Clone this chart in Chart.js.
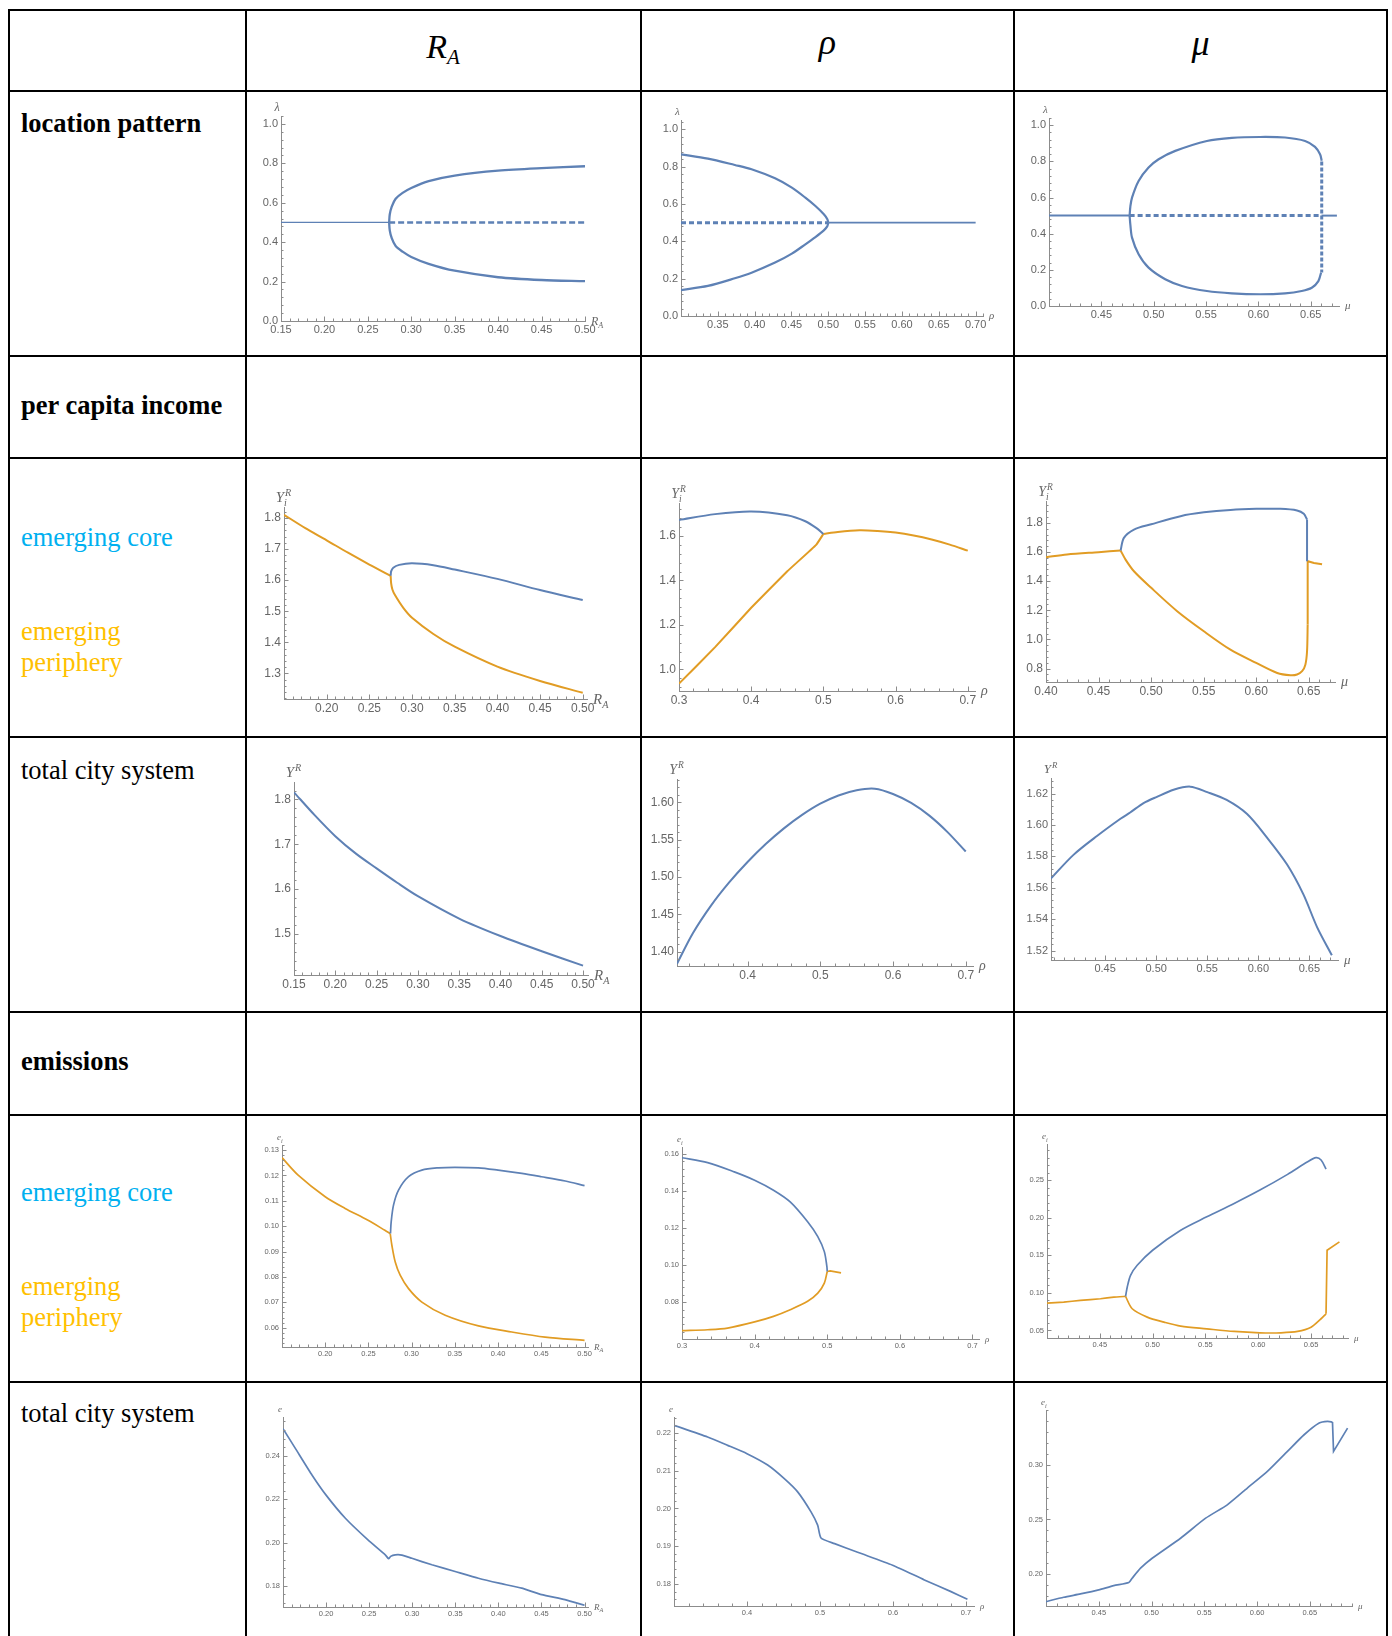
<!DOCTYPE html>
<html>
<head>
<meta charset="utf-8">
<title>Bifurcation panels</title>
<script src="https://cdn.jsdelivr.net/npm/chart.js@4.4.1/dist/chart.umd.min.js"></script>
<style>
  html, body { margin: 0; padding: 0; background: #fff; }
  #page { position: relative; width: 1392px; height: 1636px; overflow: hidden;
          font-family: "Liberation Serif", "Times New Roman", serif; color: #000; }
  .hl { position: absolute; left: 8px; width: 1380px; height: 2px; background: #000; }
  .vl { position: absolute; top: 9px; width: 2px; height: 1640px; background: #000; }
  .lab { position: absolute; left: 21px; font-size: 26.5px; line-height: 30.5px; white-space: nowrap; }
  .bold { font-weight: bold; }
  .core { color: #00b0f0; }
  .peri { color: #ffc000; }
  .head { position: absolute; font-size: 34px; line-height: 40px; font-style: italic; text-align: center; }
  .head sub { font-size: 21px; vertical-align: -6px; }
  canvas { position: absolute; }
</style>
</head>
<body>
<div id="page">
  <div class="head" style="left:245px;width:396px;top:27px;">R<sub>A</sub></div>
  <div class="head" style="left:641px;width:373px;top:22px;font-size:36px;">ρ</div>
  <div class="head" style="left:1014px;width:373px;top:23px;font-size:36px;">μ</div>

  <div class="lab bold" style="top:108px;">location pattern</div>
  <div class="lab bold" style="top:390px;">per capita income</div>
  <div class="lab core" style="top:522px;">emerging core</div>
  <div class="lab peri" style="top:616px;">emerging<br>periphery</div>
  <div class="lab" style="top:755px;">total city system</div>
  <div class="lab bold" style="top:1046px;">emissions</div>
  <div class="lab core" style="top:1177px;">emerging core</div>
  <div class="lab peri" style="top:1271px;">emerging<br>periphery</div>
  <div class="lab" style="top:1398px;">total city system</div>

  <div class="hl" style="top:9px"></div>
  <div class="hl" style="top:90px"></div>
  <div class="hl" style="top:355px"></div>
  <div class="hl" style="top:457px"></div>
  <div class="hl" style="top:736px"></div>
  <div class="hl" style="top:1011px"></div>
  <div class="hl" style="top:1114px"></div>
  <div class="hl" style="top:1381px"></div>
  <div class="vl" style="left:8px"></div>
  <div class="vl" style="left:245px"></div>
  <div class="vl" style="left:640px"></div>
  <div class="vl" style="left:1013px"></div>
  <div class="vl" style="left:1386px"></div>
</div>
<script>
// ---- tick labels ----
const ticksRA = [0.15, 0.20, 0.25, 0.30, 0.35, 0.40, 0.45, 0.50];
const ticksRA2 = [0.20, 0.25, 0.30, 0.35, 0.40, 0.45, 0.50];
const ticksRho = [0.35, 0.40, 0.45, 0.50, 0.55, 0.60, 0.65, 0.70];
const ticksRho2 = [0.3, 0.4, 0.5, 0.6, 0.7];
const ticksRho3 = [0.4, 0.5, 0.6, 0.7];
const ticksMu = [0.45, 0.50, 0.55, 0.60, 0.65];
const ticksMu2 = [0.40, 0.45, 0.50, 0.55, 0.60, 0.65];
const ticksLam = [0.0, 0.2, 0.4, 0.6, 0.8, 1.0];
const ticksYiRA = [1.3, 1.4, 1.5, 1.6, 1.7, 1.8];
const ticksYiRho = [1.0, 1.2, 1.4, 1.6];
const ticksYiMu = [0.8, 1.0, 1.2, 1.4, 1.6, 1.8];
const ticksYRA = [1.5, 1.6, 1.7, 1.8];
const ticksYRho = [1.40, 1.45, 1.50, 1.55, 1.60];
const ticksYMu = [1.52, 1.54, 1.56, 1.58, 1.60, 1.62];
const ticksEiRA = [0.06, 0.07, 0.08, 0.09, 0.10, 0.11, 0.12, 0.13];
const ticksEiRho = [0.08, 0.10, 0.12, 0.14, 0.16];
const ticksEiMu = [0.05, 0.10, 0.15, 0.20, 0.25];
const ticksERA = [0.18, 0.20, 0.22, 0.24];
const ticksERho = [0.18, 0.19, 0.20, 0.21, 0.22];
const ticksEMu = [0.20, 0.25, 0.30];

// ---- location pattern (lambda) ----
const lamRA_stable = [[0.15, 0.5], [0.2745, 0.5]];
const lamRA_unstable = [[0.2745, 0.5], [0.50, 0.5]];
const lamRA_upper = [[0.2745, 0.5], [0.2752, 0.54], [0.2775, 0.58], [0.282, 0.62], [0.29, 0.65], [0.30, 0.675],
  [0.32, 0.71], [0.35, 0.738], [0.40, 0.763], [0.45, 0.776], [0.50, 0.785]];
const lamRA_lower = [[0.2745, 0.5], [0.2752, 0.46], [0.2775, 0.42], [0.282, 0.38], [0.29, 0.352], [0.30, 0.325],
  [0.32, 0.29], [0.35, 0.255], [0.40, 0.222], [0.45, 0.208], [0.50, 0.202]];

const lamRho_unstable = [[0.30, 0.5], [0.50, 0.5]];
const lamRho_stable = [[0.50, 0.5], [0.70, 0.5]];
const lamRho_upper = [[0.30, 0.866], [0.3365, 0.843], [0.373, 0.809], [0.3958, 0.786], [0.4277, 0.7375],
  [0.4505, 0.6875], [0.4688, 0.634], [0.4825, 0.589], [0.4939, 0.545], [0.4985, 0.52], [0.50, 0.5]];
const lamRho_lower = [[0.30, 0.139], [0.3365, 0.161], [0.373, 0.202], [0.3958, 0.232], [0.4277, 0.286],
  [0.4505, 0.334], [0.4688, 0.384], [0.4825, 0.423], [0.4939, 0.459], [0.4985, 0.48], [0.50, 0.5]];

const lamMu_stableL = [[0.40, 0.5], [0.477, 0.5]];
const lamMu_unstable = [[0.477, 0.5], [0.6605, 0.5]];
const lamMu_stableR = [[0.6605, 0.5], [0.675, 0.5]];
const lamMu_upper = [[0.477, 0.5], [0.4777, 0.55], [0.4793, 0.60], [0.4856, 0.692], [0.4951, 0.766], [0.5047, 0.812],
  [0.5206, 0.858], [0.5508, 0.913], [0.5746, 0.93], [0.6017, 0.935], [0.6255, 0.932], [0.6446, 0.913],
  [0.6541, 0.88], [0.6589, 0.839], [0.6605, 0.803]];
const lamMu_lower = [[0.477, 0.5], [0.4777, 0.45], [0.4793, 0.378], [0.4856, 0.286], [0.4951, 0.212], [0.511, 0.148],
  [0.527, 0.111], [0.5508, 0.083], [0.5746, 0.07], [0.6017, 0.065], [0.6255, 0.07], [0.6414, 0.083],
  [0.651, 0.101], [0.6573, 0.138], [0.6599, 0.185]];
const lamMu_jump = [[0.6605, 0.80], [0.6605, 0.185]];

// ---- per capita income, core / periphery ----
const yiRA_periLeft = [[0.15, 1.81], [0.175, 1.767], [0.20, 1.728], [0.225, 1.688], [0.25, 1.65], [0.275, 1.614]];
const yiRA_periLow = [[0.275, 1.614], [0.2755, 1.59], [0.277, 1.57], [0.28, 1.552], [0.29, 1.51], [0.30, 1.479],
  [0.325, 1.427], [0.35, 1.386], [0.40, 1.322], [0.45, 1.276], [0.50, 1.238]];
const yiRA_core = [[0.275, 1.614], [0.2755, 1.628], [0.278, 1.640], [0.285, 1.649], [0.30, 1.654], [0.325, 1.648],
  [0.35, 1.634], [0.40, 1.604], [0.45, 1.568], [0.50, 1.536]];

const yiRho_core = [[0.30, 1.672], [0.35, 1.698], [0.40, 1.71], [0.45, 1.693], [0.475, 1.666], [0.49, 1.636], [0.50, 1.609]];
const yiRho_peri = [[0.30, 0.936], [0.35, 1.10], [0.40, 1.277], [0.45, 1.441], [0.49, 1.56], [0.50, 1.609]];
const yiRho_sym = [[0.50, 1.609], [0.52, 1.618], [0.55, 1.625], [0.575, 1.622], [0.60, 1.615], [0.625, 1.602],
  [0.65, 1.584], [0.675, 1.561], [0.70, 1.534]];

const yiMu_symL = [[0.40, 1.564], [0.42, 1.583], [0.45, 1.599], [0.471, 1.61]];
const yiMu_core = [[0.471, 1.61], [0.4741, 1.697], [0.4837, 1.754], [0.5001, 1.79], [0.528, 1.846], [0.5502, 1.872],
  [0.5755, 1.889], [0.60, 1.896], [0.623, 1.896], [0.6389, 1.885], [0.6453, 1.862], [0.6484, 1.823]];
const yiMu_coreDrop = [[0.6484, 1.823], [0.6484, 1.537]];
const yiMu_peri = [[0.471, 1.61], [0.4757, 1.548], [0.4837, 1.468], [0.5001, 1.354], [0.5248, 1.194], [0.5502, 1.056],
  [0.5755, 0.930], [0.60, 0.839], [0.62, 0.770], [0.6326, 0.754], [0.6389, 0.759], [0.6437, 0.782],
  [0.6468, 0.827], [0.6484, 0.919], [0.649, 1.102]];
const yiMu_periJump = [[0.649, 1.102], [0.649, 1.537], [0.655, 1.525], [0.6627, 1.516]];

// ---- per capita income, total ----
const yRA = [[0.15, 1.816], [0.175, 1.765], [0.20, 1.718], [0.225, 1.679], [0.25, 1.646], [0.275, 1.614],
  [0.30, 1.584], [0.35, 1.534], [0.40, 1.495], [0.45, 1.461], [0.50, 1.429]];
const yRho = [[0.303, 1.384], [0.325, 1.425], [0.35, 1.462], [0.375, 1.493], [0.40, 1.520], [0.425, 1.544],
  [0.45, 1.565], [0.475, 1.583], [0.50, 1.598], [0.525, 1.609], [0.55, 1.616], [0.575, 1.618], [0.60, 1.611],
  [0.625, 1.599], [0.65, 1.582], [0.675, 1.560], [0.70, 1.534]];
const yMu = [[0.397, 1.566], [0.419, 1.581], [0.442, 1.593], [0.465, 1.604], [0.4745, 1.608], [0.4876, 1.614],
  [0.5007, 1.618], [0.517, 1.6225], [0.5333, 1.6245], [0.55, 1.621], [0.569, 1.616], [0.589, 1.607],
  [0.6085, 1.592], [0.628, 1.575], [0.644, 1.556], [0.6575, 1.535], [0.672, 1.517]];

// ---- emissions, core / periphery ----
const eiRA_periLeft = [[0.15, 0.127], [0.169, 0.120], [0.20, 0.1116], [0.223, 0.107], [0.249, 0.1024],
  [0.269, 0.0984], [0.2752, 0.0971]];
const eiRA_periLow = [[0.2752, 0.0971], [0.2771, 0.0925], [0.281, 0.0859], [0.2867, 0.0807], [0.2964, 0.0754],
  [0.3118, 0.0701], [0.3388, 0.0649], [0.3773, 0.0607], [0.4159, 0.0583], [0.4544, 0.0563], [0.50, 0.055]];
const eiRA_core = [[0.2755, 0.0971], [0.2763, 0.1017], [0.279, 0.1083], [0.2848, 0.1142], [0.2964, 0.1195],
  [0.3118, 0.1221], [0.331, 0.123], [0.35, 0.1232], [0.377, 0.123], [0.40, 0.1221], [0.4275, 0.1208],
  [0.45, 0.1195], [0.4776, 0.1178], [0.50, 0.116]];

const eiRho_core = [[0.30, 0.1578], [0.3353, 0.1552], [0.372, 0.1502], [0.40, 0.1457], [0.426, 0.1403],
  [0.449, 0.134], [0.473, 0.1233], [0.487, 0.1153], [0.496, 0.1072], [0.4995, 0.0992], [0.50, 0.0965]];
const eiRho_peri = [[0.30, 0.0646], [0.3353, 0.0651], [0.3628, 0.066], [0.40, 0.0693], [0.426, 0.0723],
  [0.449, 0.0759], [0.473, 0.0804], [0.487, 0.0848], [0.496, 0.0902], [0.50, 0.0965]];
const eiRho_sym = [[0.50, 0.0965], [0.504, 0.0968], [0.519, 0.0957]];

const eiMu_symL = [[0.40, 0.0864], [0.4158, 0.0878], [0.4316, 0.09], [0.4506, 0.0922], [0.4633, 0.0944], [0.4744, 0.0953]];
const eiMu_core = [[0.4744, 0.0953], [0.476, 0.1078], [0.4791, 0.1233], [0.4854, 0.1367], [0.50, 0.1567],
  [0.5266, 0.1833], [0.5513, 0.2011], [0.5772, 0.2189], [0.6016, 0.2367], [0.6278, 0.2576], [0.6468, 0.2744],
  [0.6547, 0.2798], [0.6595, 0.2767], [0.6642, 0.2647]];
const eiMu_peri = [[0.4744, 0.0953], [0.4807, 0.0789], [0.4949, 0.0678], [0.5108, 0.0611], [0.5266, 0.0558],
  [0.5513, 0.0522], [0.5772, 0.0487], [0.6016, 0.0469], [0.6215, 0.0469], [0.6373, 0.0487], [0.65, 0.0544],
  [0.6595, 0.0656], [0.6642, 0.0722]];
const eiMu_periJump = [[0.6642, 0.0722], [0.6652, 0.1567], [0.6769, 0.1678]];

// ---- emissions, total ----
const eRA = [[0.15, 0.2526], [0.1645, 0.2434], [0.1838, 0.2311], [0.20, 0.2219], [0.2224, 0.2112], [0.2486, 0.2012],
  [0.2687, 0.1943], [0.2726, 0.1925], [0.2749, 0.1936], [0.2803, 0.1943], [0.288, 0.1942], [0.2996, 0.1927],
  [0.3228, 0.1897], [0.3498, 0.1866], [0.3768, 0.1835], [0.4008, 0.1812], [0.427, 0.1789], [0.4502, 0.1759],
  [0.4772, 0.1736], [0.50, 0.171]];
const eRho = [[0.30, 0.222], [0.346, 0.2189], [0.3735, 0.2167], [0.40, 0.2145], [0.4283, 0.2115], [0.4511, 0.2079],
  [0.4694, 0.2044], [0.4877, 0.1991], [0.4968, 0.1956], [0.5014, 0.1922], [0.52, 0.1907], [0.5516, 0.1884],
  [0.5995, 0.185], [0.643, 0.1811], [0.6795, 0.178], [0.702, 0.176]];
const eMu = [[0.40, 0.175], [0.4168, 0.179], [0.4326, 0.182], [0.45, 0.1857], [0.4642, 0.1896], [0.4785, 0.1924],
  [0.4816, 0.1963], [0.4896, 0.2055], [0.5006, 0.2146], [0.5275, 0.2329], [0.5513, 0.2512], [0.5718, 0.2634],
  [0.5908, 0.2787], [0.6098, 0.2939], [0.6288, 0.3122], [0.6446, 0.3274], [0.6589, 0.3381], [0.6668, 0.3396],
  [0.6715, 0.339]];
const eMu_jump = [[0.6715, 0.339], [0.6725, 0.3122], [0.6858, 0.3335]];

// ---- drawing ----
const BLUE = '#5e81b5', ORANGE = '#e19c24';
const AXIS = '#8c8c8c', TXT = '#666';
const TF = '"Liberation Sans Narrow", "Liberation Sans", Arial, sans-serif';
const ML = 48, MR = 40, MT = 26, MB = 24;   // room around each plot box

function line(data, color, o = {}) {
  return {
    data: data.map(([x, y]) => ({ x, y })),
    showLine: true, pointRadius: 0, fill: false,
    borderColor: color, borderWidth: o.w || 2,
    borderDash: o.dash || [], tension: o.t === undefined ? 0.3 : o.t
  };
}

// rect = [left, top, right, bottom] of the plot box on the page
const charts = [
  { rect: [281, 116, 585, 321], xr: [0.15, 0.50], yr: [0, 1.04], xt: ticksRA, yt: ticksLam,
    xn: ['R', 'A'], yn: ['λ'], fs: 11, nfs: 12,
    series: [line(lamRA_stable, BLUE, { w: 1.3, t: 0 }), line(lamRA_unstable, BLUE, { w: 2.5, dash: [6, 3], t: 0 }),
      line(lamRA_upper, BLUE, { w: 2.3 }), line(lamRA_lower, BLUE, { w: 2.3 })] },
  { rect: [681, 120, 983, 316], xr: [0.30, 0.71], yr: [0, 1.05], xt: ticksRho, yt: ticksLam,
    xn: ['ρ'], yn: ['λ'], fs: 11, nfs: 11,
    series: [line(lamRho_unstable, BLUE, { w: 3, dash: [5, 3], t: 0 }), line(lamRho_stable, BLUE, { w: 1.8, t: 0 }),
      line(lamRho_upper, BLUE, { w: 2.2 }), line(lamRho_lower, BLUE, { w: 2.2 })] },
  { rect: [1049, 118, 1339, 306], xr: [0.40, 0.677], yr: [0, 1.04], xt: ticksMu, yt: ticksLam,
    xn: ['μ'], yn: ['λ'], fs: 11, nfs: 11,
    series: [line(lamMu_stableL, BLUE, { w: 2, t: 0 }), line(lamMu_unstable, BLUE, { w: 3, dash: [5, 3], t: 0 }),
      line(lamMu_stableR, BLUE, { w: 2, t: 0 }), line(lamMu_upper, BLUE, { w: 2.2 }),
      line(lamMu_lower, BLUE, { w: 2.2 }), line(lamMu_jump, BLUE, { w: 3, dash: [4, 2], t: 0 })] },

  { rect: [284, 507, 587, 699], xr: [0.15, 0.505], yr: [1.218, 1.835], xt: ticksRA2, yt: ticksYiRA,
    xn: ['R', 'A'], yn: ['Y', 'i', 'R'], fs: 12, nfs: 15,
    series: [line(yiRA_core, BLUE), line(yiRA_periLeft, ORANGE), line(yiRA_periLow, ORANGE)] },
  { rect: [679, 503, 975, 691], xr: [0.30, 0.71], yr: [0.903, 1.748], xt: ticksRho2, yt: ticksYiRho,
    xn: ['ρ'], yn: ['Y', 'i', 'R'], fs: 12, nfs: 14,
    series: [line(yiRho_core, BLUE), line(yiRho_peri, ORANGE, { t: 0.1 }), line(yiRho_sym, ORANGE)] },
  { rect: [1046, 501, 1335, 682], xr: [0.40, 0.675], yr: [0.708, 1.95], xt: ticksMu2, yt: ticksYiMu,
    xn: ['μ'], yn: ['Y', 'i', 'R'], fs: 12, nfs: 14,
    series: [line(yiMu_core, BLUE), line(yiMu_coreDrop, BLUE, { t: 0 }), line(yiMu_symL, ORANGE),
      line(yiMu_peri, ORANGE), line(yiMu_periJump, ORANGE, { t: 0 })] },

  { rect: [294, 782, 588, 975], xr: [0.15, 0.506], yr: [1.408, 1.839], xt: ticksRA, yt: ticksYRA,
    xn: ['R', 'A'], yn: ['Y', '', 'R'], fs: 12, nfs: 15,
    series: [line(yRA, BLUE)] },
  { rect: [677, 779, 973, 966], xr: [0.303, 0.71], yr: [1.381, 1.631], xt: ticksRho3, yt: ticksYRho,
    xn: ['ρ'], yn: ['Y', '', 'R'], fs: 12, nfs: 14,
    series: [line(yRho, BLUE)] },
  { rect: [1051, 778, 1338, 960], xr: [0.397, 0.678], yr: [1.514, 1.63], xt: ticksMu, yt: ticksYMu,
    xn: ['μ'], yn: ['Y', '', 'R'], fs: 11, nfs: 13,
    series: [line(yMu, BLUE)] },

  { rect: [282, 1145, 588, 1347], xr: [0.15, 0.504], yr: [0.0524, 0.132], xt: ticksRA2, yt: ticksEiRA,
    xn: ['R', 'A'], yn: ['e', 'i'], fs: 7.5, nfs: 9,
    series: [line(eiRA_core, BLUE, { w: 1.7 }), line(eiRA_periLeft, ORANGE, { w: 1.7 }), line(eiRA_periLow, ORANGE, { w: 1.7 })] },
  { rect: [682, 1147, 979, 1339], xr: [0.30, 0.709], yr: [0.0601, 0.1636], xt: ticksRho2, yt: ticksEiRho,
    xn: ['ρ'], yn: ['e', 'i'], fs: 7.5, nfs: 9,
    series: [line(eiRho_core, BLUE, { w: 1.7 }), line(eiRho_peri, ORANGE, { w: 1.7 }), line(eiRho_sym, ORANGE, { w: 1.7, t: 0 })] },
  { rect: [1047, 1144, 1348, 1338], xr: [0.40, 0.685], yr: [0.04, 0.298], xt: ticksMu, yt: ticksEiMu,
    xn: ['μ'], yn: ['e', 'i'], fs: 7.5, nfs: 9,
    series: [line(eiMu_core, BLUE, { w: 1.7 }), line(eiMu_symL, ORANGE, { w: 1.7, t: 0.1 }), line(eiMu_peri, ORANGE, { w: 1.7 }),
      line(eiMu_periJump, ORANGE, { w: 1.7, t: 0 })] },

  { rect: [283, 1417, 588, 1607], xr: [0.15, 0.504], yr: [0.1702, 0.258], xt: ticksRA2, yt: ticksERA,
    xn: ['R', 'A'], yn: ['e'], fs: 7.5, nfs: 9,
    series: [line(eRA, BLUE, { w: 1.7, t: 0.15 })] },
  { rect: [674, 1417, 974, 1606], xr: [0.30, 0.711], yr: [0.1742, 0.2242], xt: ticksRho3, yt: ticksERho,
    xn: ['ρ'], yn: ['e'], fs: 7.5, nfs: 9,
    series: [line(eRho, BLUE, { w: 1.7, t: 0.2 })] },
  { rect: [1046, 1410, 1352, 1606], xr: [0.40, 0.69], yr: [0.171, 0.35], xt: ticksMu, yt: ticksEMu,
    xn: ['μ'], yn: ['e', 'i'], fs: 7.5, nfs: 9,
    series: [line(eMu, BLUE, { w: 1.7, t: 0.2 }), line(eMu_jump, BLUE, { w: 1.7, t: 0 })] }
];

function decimals(ticks) {
  return Math.max(1, ...ticks.map(v => (String(v).split('.')[1] || '').length));
}

function drawName(ctx, nm, x, y, fs) {
  const [base, sub, sup] = nm;
  ctx.font = 'italic ' + fs + 'px "Liberation Serif", serif';
  ctx.fillText(base, x, y);
  const w = ctx.measureText(base).width;
  ctx.font = 'italic ' + (fs * 0.68) + 'px "Liberation Serif", serif';
  if (sub) ctx.fillText(sub, x + w, y + fs * 0.28);
  if (sup) ctx.fillText(sup, x + w + 1, y - fs * 0.42);
}

// Mathematica style: inward major/minor ticks plus axis names at the ends
const mmaAxes = {
  id: 'mmaAxes',
  afterDraw(chart, args, o) {
    const { ctx, chartArea: a, scales } = chart;
    ctx.save();
    ctx.strokeStyle = AXIS;
    ctx.lineWidth = 1;
    const marks = (scale, ticks, horiz) => {
      const minor = (ticks[1] - ticks[0]) / 5;
      let v = ticks[0] - Math.floor((ticks[0] - scale.min) / minor + 1e-6) * minor;
      ctx.beginPath();
      for (; v <= scale.max + 1e-9; v += minor) {
        const p = Math.round(scale.getPixelForValue(v)) + 0.5;
        const major = ticks.some(t => Math.abs(t - v) < minor / 10);
        const len = major ? 4.5 : 2.5;
        if (horiz) { ctx.moveTo(p, a.bottom); ctx.lineTo(p, a.bottom - len); }
        else { ctx.moveTo(a.left, p); ctx.lineTo(a.left + len, p); }
      }
      ctx.stroke();
    };
    marks(scales.x, o.xt, true);
    marks(scales.y, o.yt, false);
    ctx.fillStyle = TXT;
    ctx.textAlign = 'left';
    ctx.textBaseline = 'alphabetic';
    drawName(ctx, o.xn, a.right + 6, a.bottom + o.nfs * 0.3, o.nfs);
    drawName(ctx, o.yn, a.left - o.nfs * 0.55, a.top - 5, o.nfs);
    ctx.restore();
  }
};

const page = document.getElementById('page');
charts.forEach(c => {
  const [l, t, r, b] = c.rect;
  const cv = document.createElement('canvas');
  cv.width = r - l + ML + MR;
  cv.height = b - t + MT + MB;
  cv.style.left = (l - ML) + 'px';
  cv.style.top = (t - MT) + 'px';
  page.appendChild(cv);
  const xd = decimals(c.xt), yd = decimals(c.yt);
  const tickFont = { family: TF, size: c.fs };
  new Chart(cv, {
    type: 'scatter',
    data: { datasets: c.series },
    options: {
      responsive: false,
      animation: false,
      layout: { padding: { left: 0, right: MR, top: MT, bottom: 0 } },
      plugins: {
        legend: { display: false },
        tooltip: { enabled: false },
        mmaAxes: { xt: c.xt, yt: c.yt, xn: c.xn, yn: c.yn, nfs: c.nfs }
      },
      scales: {
        x: {
          type: 'linear', min: c.xr[0], max: c.xr[1],
          grid: { display: false, drawTicks: false },
          border: { display: true, color: AXIS, width: 1 },
          ticks: { autoSkip: false, maxRotation: 0, padding: 2, color: TXT, font: tickFont,
            callback: v => v.toFixed(xd) },
          afterBuildTicks: s => { s.ticks = c.xt.map(v => ({ value: v })); },
          afterFit: s => { s.height = MB; }
        },
        y: {
          type: 'linear', min: c.yr[0], max: c.yr[1],
          grid: { display: false, drawTicks: false },
          border: { display: true, color: AXIS, width: 1 },
          ticks: { autoSkip: false, padding: 3, color: TXT, font: tickFont,
            callback: v => v.toFixed(yd) },
          afterBuildTicks: s => { s.ticks = c.yt.map(v => ({ value: v })); },
          afterFit: s => { s.width = ML; }
        }
      }
    },
    plugins: [mmaAxes]
  });
});
</script>
</body>
</html>
